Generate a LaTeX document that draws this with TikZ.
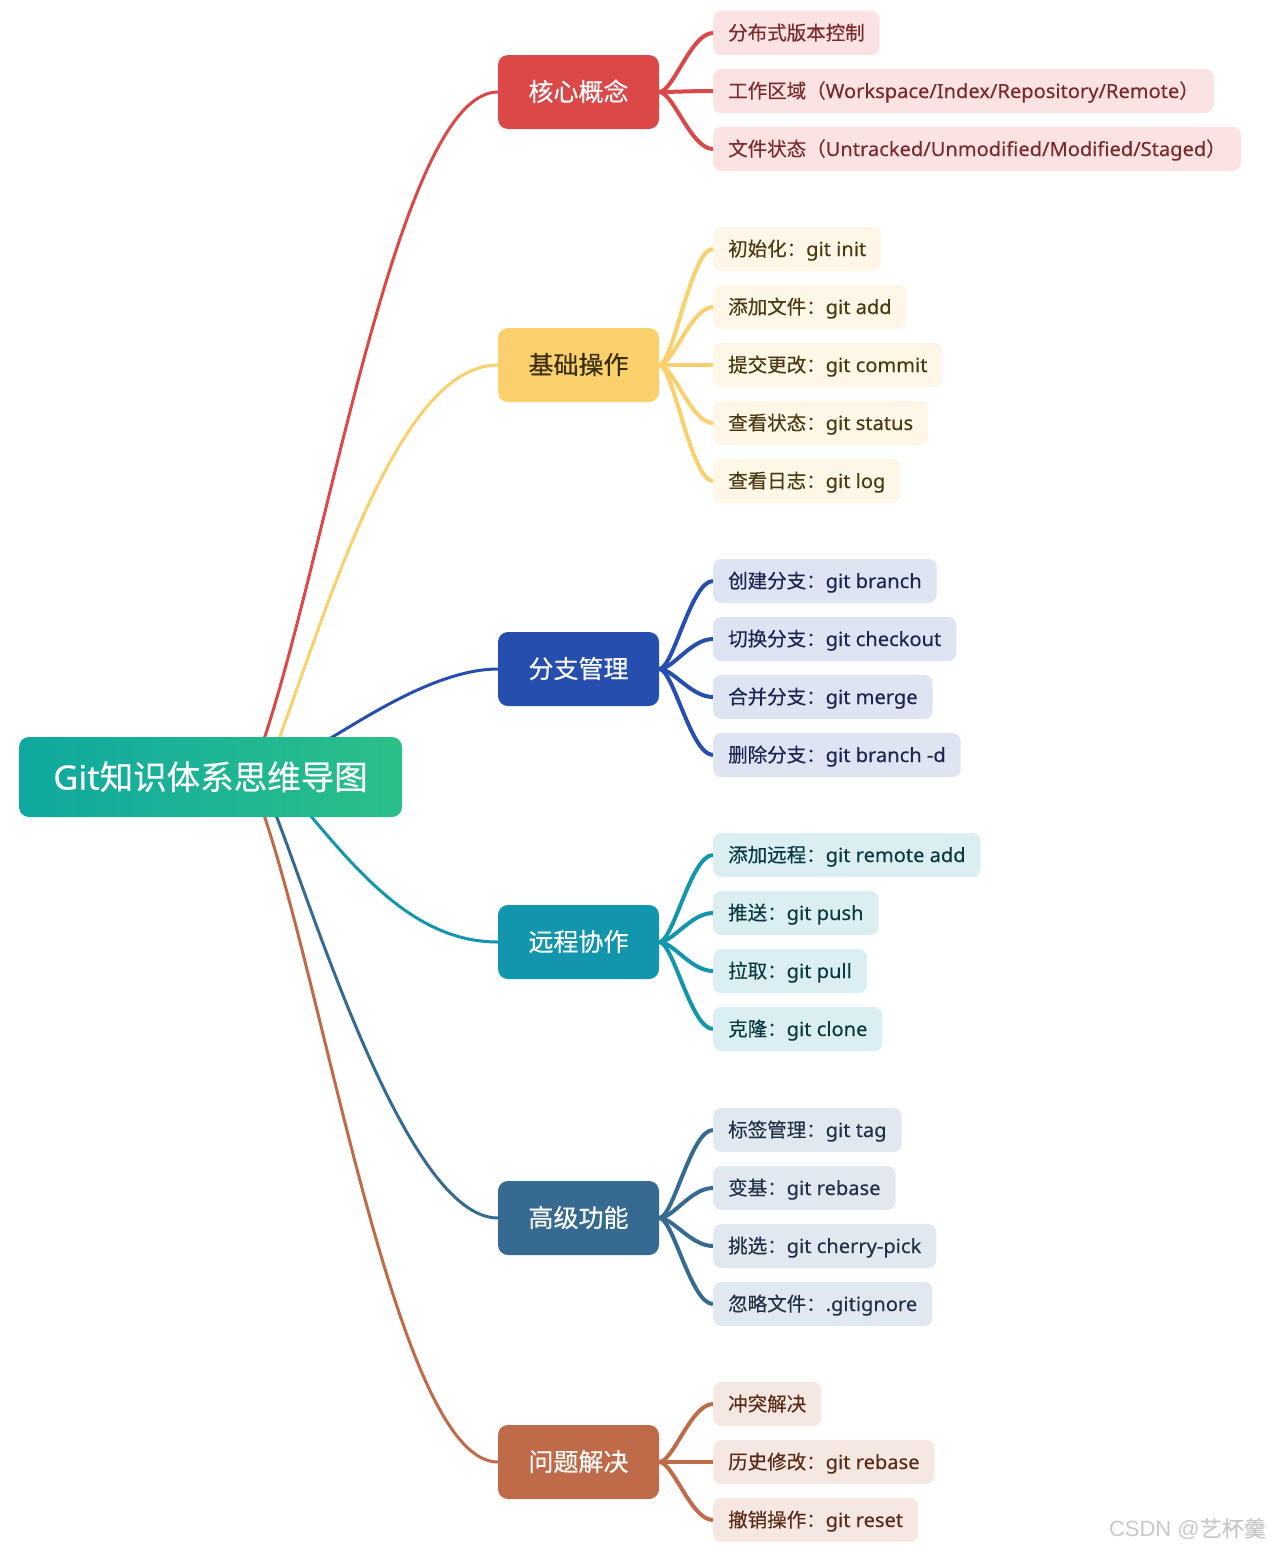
\documentclass[tikz,border=0pt]{standalone}
\usepackage{fontspec}
\setmainfont{Noto Sans}[FakeStretch=1.03,FakeBold=0.3]
\newfontfamily\cjkfont{Noto Sans CJK SC}[FakeBold=0.3]
\newfontfamily\wmfont{Liberation Sans}
\newcommand{\zh}[1]{{\cjkfont #1}}
\pgfdeclarelayer{background}
\pgfsetlayers{background,main}
\definecolor{rootL}{HTML}{0FA9A0}
\definecolor{rootR}{HTML}{2BBF88}
\definecolor{cR}{HTML}{DC4848}
\definecolor{cRl}{HTML}{FBE3E3}
\definecolor{cRt}{HTML}{7A2A2A}
\definecolor{cY}{HTML}{F9D06B}
\definecolor{cYl}{HTML}{FEF6E6}
\definecolor{cYt}{HTML}{4A3A12}
\definecolor{cYb}{HTML}{3A2E0E}
\definecolor{cB}{HTML}{264EAE}
\definecolor{cBl}{HTML}{DFE4F3}
\definecolor{cBt}{HTML}{1B2550}
\definecolor{cT}{HTML}{1296AE}
\definecolor{cTl}{HTML}{DBEFF3}
\definecolor{cTt}{HTML}{0A3A40}
\definecolor{cS}{HTML}{376A91}
\definecolor{cSl}{HTML}{E2E8EF}
\definecolor{cSt}{HTML}{1F3247}
\definecolor{cO}{HTML}{BF6A48}
\definecolor{cOl}{HTML}{F5E8E3}
\definecolor{cOt}{HTML}{5B2A17}
\definecolor{wm}{HTML}{C8C8C8}
\tikzset{
  rootbox/.style={rounded corners=10pt, minimum width=383pt, minimum height=80pt, inner sep=0pt, text height=26pt, text depth=1pt, text=white, left color=rootL, right color=rootR, font=\fontsize{33.5pt}{40pt}\selectfont},
  branchbox/.style={rounded corners=10pt, minimum width=161pt, minimum height=74pt, inner sep=0pt, text height=19pt, text depth=1pt, font=\cjkfont\fontsize{25pt}{30pt}\selectfont},
  leafbox/.style={anchor=west, rounded corners=8pt, minimum height=44pt, inner xsep=15pt, inner ysep=0pt, text height=15pt, text depth=1pt, font=\fontsize{19.5pt}{24pt}\selectfont},
  mainline/.style={line width=3pt},
  leafline/.style={line width=4pt},
  redB/.style={branchbox, fill=cR, text=white},
  redL/.style={leafbox, fill=cRl, text=cRt},
  yelB/.style={branchbox, fill=cY, text=cYb},
  yelL/.style={leafbox, fill=cYl, text=cYt},
  bluB/.style={branchbox, fill=cB, text=white},
  bluL/.style={leafbox, fill=cBl, text=cBt},
  tealB/.style={branchbox, fill=cT, text=white},
  tealL/.style={leafbox, fill=cTl, text=cTt},
  stlB/.style={branchbox, fill=cS, text=white},
  stlL/.style={leafbox, fill=cSl, text=cSt},
  brnB/.style={branchbox, fill=cO, text=white},
  brnL/.style={leafbox, fill=cOl, text=cOt},
  leafc/.style={leafline, draw=#1},
}
\begin{document}
\begin{tikzpicture}[x=1pt,y=-1pt]
\useasboundingbox (0,0) rectangle (1269,1550);

% root
\node[rootbox] (root) at (210.5,777) {Git\zh{知识体系思维导图}};

% branches
\node[redB]  (A) at (578.5,92)   {核心概念};
\node[yelB]  (B) at (578.5,365)  {基础操作};
\node[bluB]  (C) at (578.5,669)  {分支管理};
\node[tealB] (D) at (578.5,942)  {远程协作};
\node[stlB]  (E) at (578.5,1218) {高级功能};
\node[brnB]  (F) at (578.5,1462) {问题解决};

% leaves
\node[redL] (a1) at (713,33)  {\zh{分布式版本控制}};
\node[redL] (a2) at (713,91)  {\zh{工作区域（}Workspace/Index/Repository/Remote\zh{）}};
\node[redL] (a3) at (713,149) {\zh{文件状态（}Untracked/Unmodified/Modified/Staged\zh{）}};

\node[yelL] (b1) at (713,249) {\zh{初始化：}git init};
\node[yelL] (b2) at (713,307) {\zh{添加文件：}git add};
\node[yelL] (b3) at (713,365) {\zh{提交更改：}git commit};
\node[yelL] (b4) at (713,423) {\zh{查看状态：}git status};
\node[yelL] (b5) at (713,481) {\zh{查看日志：}git log};

\node[bluL] (c1) at (713,581) {\zh{创建分支：}git branch};
\node[bluL] (c2) at (713,639) {\zh{切换分支：}git checkout};
\node[bluL] (c3) at (713,697) {\zh{合并分支：}git merge};
\node[bluL] (c4) at (713,755) {\zh{删除分支：}git branch -d};

\node[tealL] (d1) at (713,855)  {\zh{添加远程：}git remote add};
\node[tealL] (d2) at (713,913)  {\zh{推送：}git push};
\node[tealL] (d3) at (713,971)  {\zh{拉取：}git pull};
\node[tealL] (d4) at (713,1029) {\zh{克隆：}git clone};

\node[stlL] (e1) at (713,1130) {\zh{标签管理：}git tag};
\node[stlL] (e2) at (713,1188) {\zh{变基：}git rebase};
\node[stlL] (e3) at (713,1246) {\zh{挑选：}git cherry-pick};
\node[stlL] (e4) at (713,1304) {\zh{忽略文件：}.gitignore};

\node[brnL] (f1) at (713,1404) {\zh{冲突解决}};
\node[brnL] (f2) at (713,1462) {\zh{历史修改：}git rebase};
\node[brnL] (f3) at (713,1520) {\zh{撤销操作：}git reset};

% watermark
\node[anchor=east, inner sep=0pt, text=wm, font=\wmfont\fontsize{22pt}{26pt}\selectfont] (wmk) at (1266,1529) {CSDN @\zh{艺杯羹}};

\begin{pgfonlayer}{background}
% main curves
\draw[mainline, draw=cR] ([xshift=243pt,yshift=-9pt]root.north west) -- ([xshift=246pt]root.north west) .. controls +(65,-197) and +(-98,0) .. (A.west);
\draw[mainline, draw=cY] ([xshift=258pt,yshift=-9pt]root.north west) -- ([xshift=261pt]root.north west) .. controls +(50,-137) and +(-98,0) .. (B.west);
\draw[mainline, draw=cB] ([xshift=305pt,yshift=-5pt]root.north west) -- ([xshift=314pt]root.north west) .. controls +(37,-22) and +(-58,0) .. (C.west);
\draw[mainline, draw=cT] ([xshift=287pt,yshift=8pt]root.south west) -- ([xshift=293pt]root.south west) .. controls +(53,63) and +(-78,0) .. (D.west);
\draw[mainline, draw=cS] ([xshift=255pt,yshift=9pt]root.south west) -- ([xshift=258pt]root.south west) .. controls +(43,113) and +(-88,0) .. (E.west);
\draw[mainline, draw=cO] ([xshift=243pt,yshift=9pt]root.south west) -- ([xshift=246pt]root.south west) .. controls +(65,197) and +(-98,0) .. (F.west);
% leaf connectors
\foreach \l in {a1,a2,a3} \draw[leafc=cR] (A.east) .. controls +(14,0) and +(-22,0) .. (\l.west);
\foreach \l in {b1,b2,b3,b4,b5} \draw[leafc=cY] (B.east) .. controls +(14,0) and +(-22,0) .. (\l.west);
\foreach \l in {c1,c2,c3,c4} \draw[leafc=cB] (C.east) .. controls +(14,0) and +(-22,0) .. (\l.west);
\foreach \l in {d1,d2,d3,d4} \draw[leafc=cT] (D.east) .. controls +(14,0) and +(-22,0) .. (\l.west);
\foreach \l in {e1,e2,e3,e4} \draw[leafc=cS] (E.east) .. controls +(14,0) and +(-22,0) .. (\l.west);
\foreach \l in {f1,f2,f3} \draw[leafc=cO] (F.east) .. controls +(14,0) and +(-22,0) .. (\l.west);
\end{pgfonlayer}
\end{tikzpicture}
\end{document}
